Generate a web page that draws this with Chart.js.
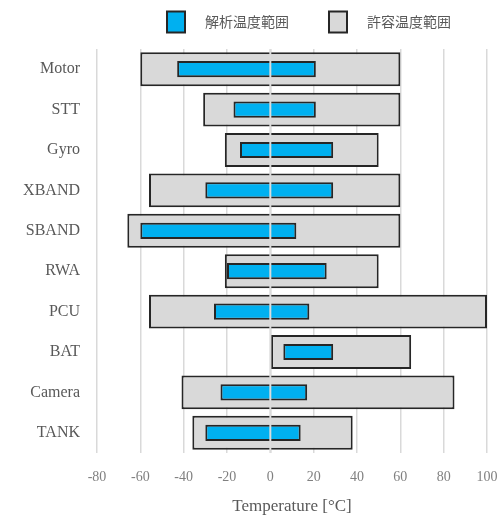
<!DOCTYPE html>
<html>
<head>
<meta charset="utf-8">
<script src="https://cdn.jsdelivr.net/npm/chart.js@4.4.1/dist/chart.umd.min.js"></script>
<style>
  html, body { margin: 0; padding: 0; background: #fff; }
  #wrap { width: 503px; height: 517px; }
</style>
</head>
<body>
<div id="wrap"><canvas id="tempChart" width="503" height="517"></canvas></div>
<script>
const categories = ['Motor', 'STT', 'Gyro', 'XBAND', 'SBAND', 'RWA', 'PCU', 'BAT', 'Camera', 'TANK'];
const analysisMin = [-43, -17, -14, -30, -60, -20, -26, 6, -23, -30];
const analysisMax = [21, 21, 29, 29, 12, 26, 18, 29, 17, 14];
const allowMin = [-60, -31, -21, -56, -66, -21, -56, 0, -41, -36];
const allowMax = [60, 60, 50, 60, 60, 50, 100, 65, 85, 38];
const xTicks = [-80, -60, -40, -20, 0, 20, 40, 60, 80, 100];

const analysisRange = categories.map((_, i) => [analysisMin[i], analysisMax[i]]);
const allowRange = categories.map((_, i) => [allowMin[i], allowMax[i]]);

// zero line drawn over the bars (category axis crossing at 0)
const zeroLine = {
    id: 'zeroLine',
    afterDatasetsDraw(chart) {
        const x = chart.scales.x.getPixelForValue(0);
        const area = chart.chartArea;
        const ctx = chart.ctx;
        ctx.save();
        ctx.strokeStyle = '#dcdcdc';
        ctx.lineWidth = 2;
        ctx.beginPath();
        ctx.moveTo(x, area.top);
        ctx.lineTo(x, area.bottom);
        ctx.stroke();
        ctx.restore();
    }
};

// simple legend at top with wider box-text gap
const topLegend = {
    id: 'topLegend',
    afterDraw(chart) {
        const ctx = chart.ctx;
        const items = chart.data.datasets;
        const boxW = 18, boxH = 21, gap = 20, itemGap = 40;
        const y = 22;
        ctx.save();
        ctx.font = "14px 'Noto Sans CJK JP'";
        ctx.textBaseline = 'middle';
        let x = 167;
        items.forEach((ds, i) => {
            ctx.fillStyle = ds.backgroundColor;
            ctx.strokeStyle = '#262626';
            ctx.lineWidth = 2;
            ctx.fillRect(x, y - boxH / 2, boxW, boxH);
            ctx.strokeRect(x, y - boxH / 2, boxW, boxH);
            ctx.fillStyle = '#595959';
            ctx.fillText(ds.label, x + boxW + gap, y);
            x += boxW + gap + ctx.measureText(ds.label).width + itemGap;
        });
        ctx.restore();
    }
};

new Chart(document.getElementById('tempChart'), {
    type: 'bar',
    data: {
        labels: categories,
        datasets: [
            {
                label: '解析温度範囲',
                data: analysisRange,
                backgroundColor: '#00b0f0',
                borderColor: '#262626',
                borderWidth: 2,
                borderSkipped: false,
                grouped: false,
                categoryPercentage: 1,
                barPercentage: 0.4
            },
            {
                label: '許容温度範囲',
                data: allowRange,
                backgroundColor: '#d9d9d9',
                borderColor: '#262626',
                borderWidth: 2,
                borderSkipped: false,
                grouped: false,
                categoryPercentage: 1,
                barPercentage: 0.84
            }
        ]
    },
    options: {
        indexAxis: 'y',
        responsive: false,
        animation: false,
        layout: { padding: { top: 49, right: 16, left: 0, bottom: 0 } },
        plugins: {
            legend: { display: false },
            tooltip: { enabled: false }
        },
        scales: {
            x: {
                min: -80,
                max: 100,
                afterBuildTicks: (scale) => { scale.ticks = xTicks.map(v => ({ value: v })); },
                afterFit: (scale) => { scale.height = 64; },
                grid: { color: '#d9d9d9', lineWidth: 1.5, drawTicks: true, tickLength: 16, tickColor: 'rgba(0,0,0,0)' },
                border: { display: false },
                ticks: {
                    padding: 0,
                    color: '#808080',
                    font: { family: "'Liberation Serif', serif", size: 14 }
                },
                title: {
                    display: true,
                    text: 'Temperature [°C]',
                    color: '#595959',
                    font: { family: "'Liberation Serif', serif", size: 17 },
                    padding: { top: 0, bottom: 0 }
                }
            },
            y: {
                afterFit: (scale) => { scale.width = 97; },
                grid: { display: false },
                border: { display: false },
                ticks: {
                    padding: 9,
                    color: '#595959',
                    font: { family: "'Liberation Serif', serif", size: 16 }
                }
            }
        }
    },
    plugins: [zeroLine, topLegend]
});
</script>
</body>
</html>
